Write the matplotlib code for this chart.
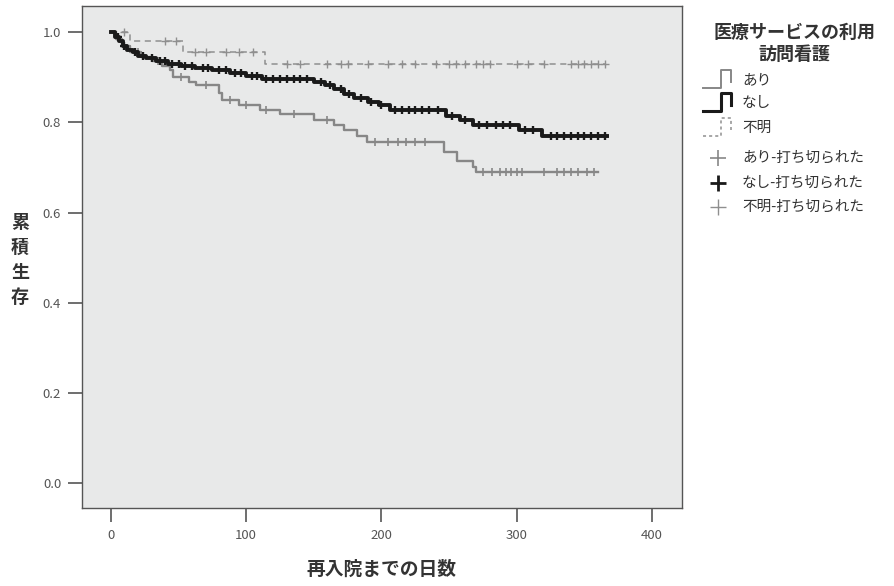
import matplotlib

matplotlib.use("Agg")

import matplotlib.pyplot as plt
import numpy as np
from matplotlib.lines import Line2D

plt.rcParams["font.family"] = ["Noto Sans CJK JP", "DejaVu Sans"]

# Kaplan-Meier curves: event days and survival after each event
ari_days = [4, 8, 14, 22, 30, 38, 44, 46, 58, 63, 80, 82, 95, 110, 125, 150, 165, 172, 182, 189, 246, 256, 268, 270]
ari_surv = [0.985, 0.97, 0.955, 0.945, 0.935, 0.925, 0.915, 0.90, 0.89, 0.882, 0.865, 0.85, 0.838, 0.828,
            0.818, 0.805, 0.795, 0.783, 0.77, 0.757, 0.735, 0.715, 0.702, 0.69]
ari_end = 360
ari_censor = [20, 35, 52, 70, 88, 100, 115, 135, 160, 195, 205, 212, 218, 225, 232, 275, 282, 288, 292,
              296, 300, 304, 320, 330, 335, 340, 345, 352, 357]

nashi_days = [3, 6, 9, 12, 16, 20, 26, 33, 42, 52, 62, 75, 88, 100, 112, 150, 158, 165, 172, 180, 190, 198,
              206, 248, 258, 268, 302, 319]
nashi_surv = [0.99, 0.98, 0.97, 0.96, 0.955, 0.948, 0.942, 0.936, 0.93, 0.925, 0.92, 0.915, 0.91, 0.903,
              0.897, 0.89, 0.882, 0.873, 0.862, 0.853, 0.845, 0.838, 0.827, 0.815, 0.805, 0.795, 0.782, 0.77]
nashi_end = 367
nashi_censor = [5, 10, 18, 24, 30, 36, 40, 45, 50, 55, 60, 68, 72, 80, 85, 92, 96, 104, 108, 115, 120, 125,
                130, 135, 140, 145, 155, 162, 170, 176, 185, 192, 200, 210, 215, 220, 225, 230, 235, 242,
                252, 262, 272, 278, 285, 290, 295, 306, 312, 325, 330, 335, 340, 345, 350, 355, 360, 365]

fumei_days = [14, 53, 114]
fumei_surv = [0.98, 0.957, 0.929]
fumei_end = 366
fumei_censor = [10, 40, 48, 62, 70, 85, 95, 105, 130, 140, 160, 170, 175, 190, 205, 215, 225, 240, 250,
                255, 262, 270, 275, 280, 300, 308, 320, 340, 345, 350, 355, 360, 365]

x_ticks = [0, 100, 200, 300, 400]
y_ticks = [0.0, 0.2, 0.4, 0.6, 0.8, 1.0]

legend_title = "医療サービスの利用"
legend_subtitle = "訪問看護"
legend_labels = ["あり", "なし", "不明", "あり-打ち切られた", "なし-打ち切られた", "不明-打ち切られた"]


def km_steps(days, surv, end):
    xs = np.array([0] + days + [end], dtype=float)
    ys = np.array([1.0] + surv + [surv[-1]], dtype=float)
    return xs, ys


def value_at(days, surv, t):
    value = 1.0
    for d, s in zip(days, surv):
        if d <= t:
            value = s
    return value


fig = plt.figure(figsize=(8.95, 5.86), dpi=100)
ax = fig.add_axes([82 / 895, 78 / 586, 600 / 895, 502 / 586])
ax.set_facecolor("#e8e9e9")

groups = [
    (ari_days, ari_surv, ari_end, ari_censor, "#878787", "-", 1.7, 1.2),
    (fumei_days, fumei_surv, fumei_end, fumei_censor, "#8f8f8f", (0, (4, 3)), 1.1, 1.0),
    (nashi_days, nashi_surv, nashi_end, nashi_censor, "#1a1a1a", "-", 2.8, 1.7),
]
for days, surv, end, censor, color, ls, lw, mew in groups:
    xs, ys = km_steps(days, surv, end)
    ax.plot(xs, ys, drawstyle="steps-post", color=color, linestyle=ls, linewidth=lw)
    cy = [value_at(days, surv, t) for t in censor]
    ax.plot(censor, cy, linestyle="none", marker="+", markersize=6, markeredgewidth=mew, color=color)

ax.set_xlim(-21.4, 422.2)
ax.set_ylim(-0.055, 1.058)
ax.set_xticks(x_ticks)
ax.set_yticks(y_ticks)
ax.set_xticklabels([str(v) for v in x_ticks])
ax.set_yticklabels([f"{v:.1f}" for v in y_ticks])
ax.tick_params(direction="out", length=10, width=1.2, colors="#555555", labelsize=9.5, pad=5)
for spine in ax.spines.values():
    spine.set_color("#555555")
    spine.set_linewidth(1.0)

ax.set_xlabel("再入院までの日数", fontsize=13.5, fontweight="bold", color="#333333", labelpad=13)
fig.text(20 / 895, 1 - 260 / 586, "累\n積\n生\n存", fontsize=13, fontweight="bold", color="#333333",
         ha="center", va="center", linespacing=1.4)


# legend drawn by hand in figure pixels
def fx(px):
    return px / 895


def fy(py):
    return 1 - py / 586


fig.text(fx(795), fy(32), legend_title, fontsize=13, fontweight="bold", color="#333333", ha="center", va="center")
fig.text(fx(795), fy(54), legend_subtitle, fontsize=13, fontweight="bold", color="#333333", ha="center", va="center")

rows_y = [80, 103, 128, 158, 183, 207]
step_styles = [("#878787", "-", 1.4), ("#1a1a1a", "-", 2.2), ("#8f8f8f", (0, (2, 2)), 1.1)]
for (color, ls, lw), ry in zip(step_styles, rows_y[:3]):
    px = [703, 721, 721, 731, 731]
    py = [ry + 8, ry + 8, ry - 10, ry - 10, ry + 2]
    fig.add_artist(Line2D([fx(p) for p in px], [fy(p) for p in py], color=color, linestyle=ls, linewidth=lw))

mark_styles = [("#878787", 1.2), ("#1a1a1a", 2.0), ("#8f8f8f", 1.0)]
for (color, mew), ry in zip(mark_styles, rows_y[3:]):
    fig.add_artist(Line2D([fx(718)], [fy(ry)], marker="+", markersize=11, markeredgewidth=mew,
                          color=color, linestyle="none"))

for label, ry in zip(legend_labels, rows_y):
    fig.text(fx(742), fy(ry), label, fontsize=10.5, color="#333333", ha="left", va="center")

fig.savefig("out.png", dpi=100)
